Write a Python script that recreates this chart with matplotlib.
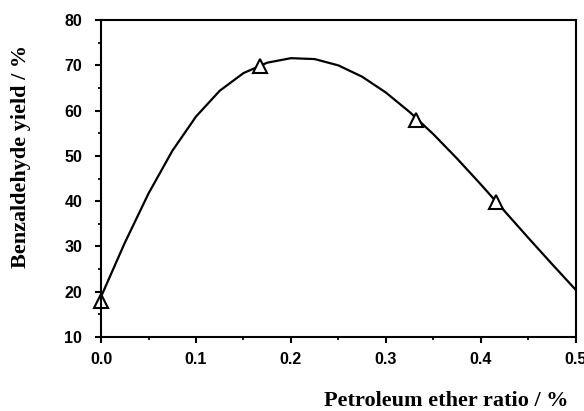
import matplotlib
matplotlib.use("Agg")
import matplotlib.pyplot as plt
from matplotlib.ticker import MultipleLocator

# Measured points (triangles)
ratio_pts = [0.0, 0.167, 0.332, 0.416]
yield_pts = [18.0, 69.8, 57.9, 39.9]

# Fitted curve
curve_x = [0.0, 0.025, 0.05, 0.075, 0.1, 0.125, 0.15, 0.175, 0.2, 0.225, 0.25,
           0.275, 0.3, 0.325, 0.35, 0.375, 0.4, 0.425, 0.45, 0.475, 0.5]
curve_y = [18.9, 30.8, 41.7, 51.1, 58.7, 64.4, 68.3, 70.6, 71.6, 71.4, 70.0,
           67.5, 64.0, 59.7, 54.8, 49.4, 43.7, 37.8, 31.9, 26.1, 20.4]

fig = plt.figure(figsize=(5.84, 4.11), dpi=100)
ax = fig.add_axes([0.173, 0.180, 0.813, 0.771])

ax.plot(curve_x, curve_y, color="black", lw=1.6, solid_joinstyle="round")
ax.plot(ratio_pts, yield_pts, linestyle="none", marker="^", markersize=10,
        markerfacecolor="white", markeredgecolor="black", markeredgewidth=1.5, clip_on=False)

ax.set_xlim(0, 0.5)
ax.set_ylim(10, 80)
ax.xaxis.set_major_locator(MultipleLocator(0.1))
ax.xaxis.set_minor_locator(MultipleLocator(0.05))
ax.yaxis.set_major_locator(MultipleLocator(10))
ax.yaxis.set_minor_locator(MultipleLocator(5))
ax.xaxis.set_major_formatter(plt.FuncFormatter(lambda v, p: f"{v:.1f}"))

for s in ax.spines.values():
    s.set_linewidth(1.5)

ax.tick_params(which="major", direction="out", length=4.5, width=1.5,
               labelsize=11.5, top=False, right=False)
ax.tick_params(which="minor", direction="out", length=2.5, width=1.3, top=False, right=False)
for lab in ax.get_xticklabels() + ax.get_yticklabels():
    lab.set_fontfamily("Liberation Sans")
    lab.set_fontweight("bold")
ax.tick_params(axis="x", pad=6)
ax.tick_params(axis="y", pad=9)

fig.text(0.764, 0.012, "Petroleum ether ratio / %", ha="center", va="baseline",
         fontsize=16, fontweight="bold", fontfamily="Liberation Serif")
fig.text(0.036, 0.62, "Benzaldehyde yield / %", ha="center", va="center", rotation=90,
         fontsize=16, fontweight="bold", fontfamily="Liberation Serif")

fig.savefig("out.png", dpi=100)
